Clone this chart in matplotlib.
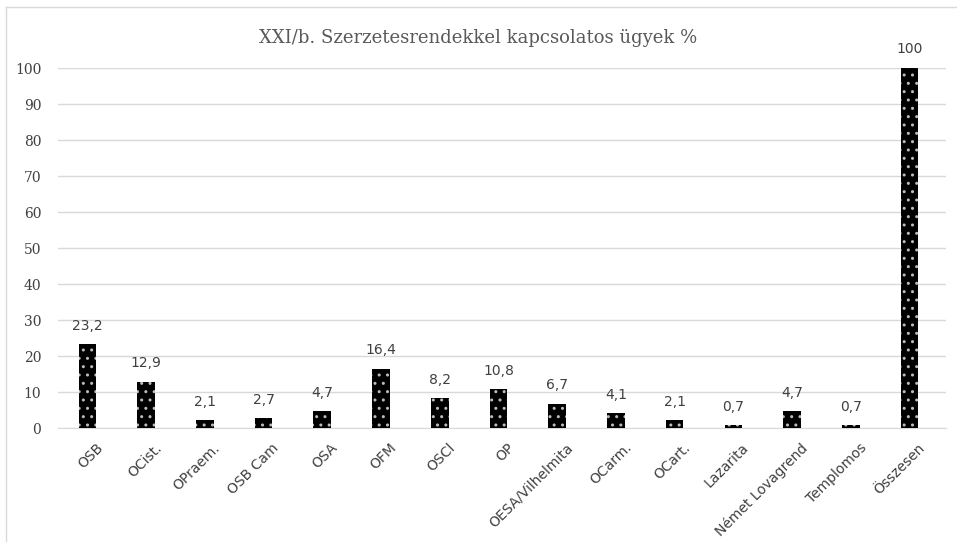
import numpy as np
import matplotlib.pyplot as plt
import matplotlib.transforms as mtransforms
from matplotlib.lines import Line2D

categories = ['OSB', 'OCist.', 'OPraem.', 'OSB Cam', 'OSA', 'OFM', 'OSCl', 'OP',
              'OESA/Vilhelmita', 'OCarm.', 'OCart.', 'Lazarita', 'Német Lovagrend',
              'Templomos', 'Összesen']
values = [23.2, 12.9, 2.1, 2.7, 4.7, 16.4, 8.2, 10.8, 6.7, 4.1, 2.1, 0.7, 4.7, 0.7, 100]
labels = ['23,2', '12,9', '2,1', '2,7', '4,7', '16,4', '8,2', '10,8', '6,7', '4,1',
          '2,1', '0,7', '4,7', '0,7', '100']
title = 'XXI/b. Szerzetesrendekkel kapcsolatos ügyek %'

plt.rcParams['hatch.linewidth'] = 1.0

fig = plt.figure(figsize=(9.57, 5.42), dpi=100)
ax = fig.add_axes([58 / 957, 1 - 428 / 542, (946 - 58) / 957, (428 - 68) / 542])

x = np.arange(len(categories))
ax.bar(x, values, width=0.3, color='black', edgecolor='#bbbbbb',
       linewidth=0, hatch='..', zorder=3)

for xi, v, lab in zip(x, values, labels):
    ax.text(xi, v + 3.2, lab, ha='center', va='bottom', fontsize=10,
            color='#404040', family='DejaVu Sans')

ax.set_xlim(-0.5, len(categories) - 0.5 + 0.12)
ax.set_ylim(0, 100)
ax.set_yticks(range(0, 101, 10))
ax.tick_params(axis='y', length=0, pad=12, labelsize=10, labelcolor='#404040')
ax.tick_params(axis='x', length=0, pad=9, labelsize=10, labelcolor='#404040')
for t in ax.get_yticklabels():
    t.set_family('DejaVu Serif')
ax.set_xticks(x)
ax.set_xticklabels(categories, rotation=45, ha='right', rotation_mode='anchor')
# nudge the slanted labels a little to the right
shift = mtransforms.ScaledTranslation(6 / 72, 0, fig.dpi_scale_trans)
for t in ax.get_xticklabels():
    t.set_transform(t.get_transform() + shift)

ax.grid(axis='y', color='#d9d9d9', linewidth=1, zorder=0)
for s in ['top', 'right', 'left']:
    ax.spines[s].set_visible(False)
ax.spines['bottom'].set_color('#d9d9d9')

fig.text(0.5, 1 - 38 / 542, title, ha='center', va='center', fontsize=13,
         color='#595959', family='DejaVu Serif')

# chart frame
fig.add_artist(Line2D([6 / 957, 6 / 957], [0, 1 - 7 / 542], transform=fig.transFigure,
                      color='#d9d9d9', linewidth=1))
fig.add_artist(Line2D([6 / 957, 1], [1 - 7 / 542, 1 - 7 / 542], transform=fig.transFigure,
                      color='#d9d9d9', linewidth=1))

fig.savefig('out.png', dpi=100)
